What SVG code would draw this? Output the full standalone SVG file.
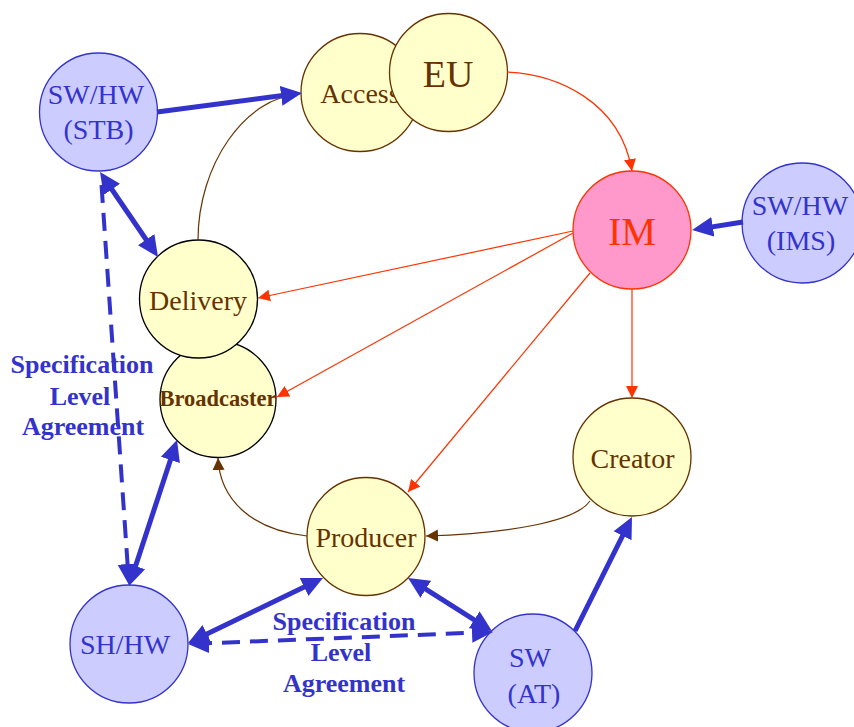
<svg xmlns="http://www.w3.org/2000/svg" width="854" height="727" viewBox="0 0 854 727">
  <style>
    .txt { font-family: "Liberation Serif", "Times New Roman", serif; text-anchor: middle; }
    .yel { fill: #FFFFCC; stroke: #663300; stroke-width: 1.3; }
    .yelk { fill: #FFFFCC; stroke: #000000; stroke-width: 1.3; }
    .blu { fill: #CCCCFF; stroke: #3333CC; stroke-width: 1.3; }
    .im { fill: #FF99CC; stroke: #FF3300; stroke-width: 1.3; }
    .tbrown { fill: #663300; font-size: 28px; }
    .tblue { fill: #3333CC; font-size: 28px; }
    .sla { fill: #3333CC; font-size: 26px; font-weight: bold; }
    .thick { stroke: #3333CC; stroke-width: 5; fill: none; }
    .dash { stroke: #3333CC; stroke-width: 4; fill: none; stroke-dasharray: 18 10; }
    .red { stroke: #FF3300; stroke-width: 1.2; fill: none; }
    .brown { stroke: #663300; stroke-width: 1.2; fill: none; }
  </style>
  <defs>
    <marker id="bigEnd" markerUnits="userSpaceOnUse" markerWidth="22" markerHeight="22" viewBox="0 -11 22 22" refX="15" refY="0" orient="auto">
      <path d="M0,-10 L21,0 L0,10 z" fill="#3333CC"/>
    </marker>
    <marker id="bigStart" markerUnits="userSpaceOnUse" markerWidth="22" markerHeight="22" viewBox="-22 -11 22 22" refX="-15" refY="0" orient="auto">
      <path d="M0,-10 L-21,0 L0,10 z" fill="#3333CC"/>
    </marker>
    <marker id="redEnd" markerUnits="userSpaceOnUse" markerWidth="13" markerHeight="13" viewBox="0 -6.5 13 13" refX="12" refY="0" orient="auto">
      <path d="M0,-6 L12,0 L0,6 z" fill="#FF3300"/>
    </marker>
    <marker id="brownEnd" markerUnits="userSpaceOnUse" markerWidth="13" markerHeight="13" viewBox="0 -6.5 13 13" refX="12" refY="0" orient="auto">
      <path d="M0,-6 L12,0 L0,6 z" fill="#663300"/>
    </marker>
  </defs>

  <rect x="0" y="0" width="854" height="727" fill="#FFFFFF"/>

  <!-- agreement labels -->
  <g id="label-sla-left" class="txt sla">
    <text x="82" y="373">Specification</text>
    <text x="80" y="405">Level</text>
    <text x="83" y="435">Agreement</text>
  </g>
  <g id="label-sla-bottom" class="txt sla">
    <text x="344" y="630">Specification</text>
    <text x="341" y="661">Level</text>
    <text x="344" y="692">Agreement</text>
  </g>

  <!-- nodes -->
  <g id="node-stb">
    <circle class="blu" cx="98.5" cy="112" r="59"/>
    <text class="txt tblue" x="96" y="104">SW/HW</text>
    <text class="txt tblue" x="98.5" y="139">(STB)</text>
  </g>
  <g id="node-access">
    <circle class="yel" cx="360" cy="92.5" r="59"/>
    <text class="txt tbrown" x="360" y="103">Access</text>
  </g>
  <g id="node-eu">
    <circle class="yel" cx="448.5" cy="72.5" r="59"/>
    <text class="txt tbrown" x="448" y="87" style="font-size:38px">EU</text>
  </g>
  <g id="node-im">
    <circle class="im" cx="632" cy="230" r="59"/>
    <text class="txt" x="632" y="245" style="font-size:39px" fill="#FF3300">IM</text>
  </g>
  <g id="node-ims">
    <circle class="blu" cx="802" cy="223" r="60"/>
    <text class="txt tblue" x="800" y="215">SW/HW</text>
    <text class="txt tblue" x="801" y="250">(IMS)</text>
  </g>
  <g id="node-broadcaster">
    <circle class="yelk" cx="218" cy="399.5" r="58"/>
    <text class="txt" x="218" y="406" style="font-size:22.5px;font-weight:bold" fill="#663300">Broadcaster</text>
  </g>
  <g id="node-delivery">
    <circle class="yelk" cx="198.5" cy="299" r="59"/>
    <text class="txt tbrown" x="198" y="310">Delivery</text>
  </g>
  <g id="node-creator">
    <circle class="yel" cx="632" cy="457" r="59"/>
    <text class="txt tbrown" x="632.5" y="468">Creator</text>
  </g>
  <g id="node-producer">
    <circle class="yel" cx="366" cy="536.5" r="59"/>
    <text class="txt tbrown" x="366" y="547">Producer</text>
  </g>
  <g id="node-shhw">
    <circle class="blu" cx="129" cy="644" r="59"/>
    <text class="txt tblue" x="125" y="654">SH/HW</text>
  </g>
  <g id="node-swat">
    <circle class="blu" cx="533" cy="673" r="59"/>
    <text class="txt tblue" x="530" y="667">SW</text>
    <text class="txt tblue" x="534" y="703">(AT)</text>
  </g>

  <!-- connectors -->
  <g id="connectors">
    <!-- information flows -->
    <path class="red" d="M507,72 C555,74 620,100 632,171" marker-end="url(#redEnd)"/>
    <path class="red" d="M573,231 L258,298" marker-end="url(#redEnd)"/>
    <path class="red" d="M573,233 L277,397" marker-end="url(#redEnd)"/>
    <path class="red" d="M590,273 L408,492" marker-end="url(#redEnd)"/>
    <path class="red" d="M632,289 L632,398" marker-end="url(#redEnd)"/>

    <!-- content chain -->
    <path class="brown" d="M198,240 C198,165 245,97 300,94"/>
    <path class="brown" d="M307,536 C252,530 220,500 218,458" marker-end="url(#brownEnd)"/>
    <path class="brown" d="M590,501 C575,522 510,533 426,536" marker-end="url(#brownEnd)"/>

    <!-- software / hardware links -->
    <path class="thick" d="M157,112 L296,93.8" marker-end="url(#bigEnd)"/>
    <path class="thick" d="M103.4,177 L154.6,252" marker-start="url(#bigStart)" marker-end="url(#bigEnd)"/>
    <path class="dash" d="M101.5,185 L128.6,579" marker-end="url(#bigEnd)"/>
    <path class="thick" d="M130.9,580.3 L175.1,445.7" marker-start="url(#bigStart)" marker-end="url(#bigEnd)"/>
    <path class="thick" d="M193.4,640.4 L317.6,580.6" marker-start="url(#bigStart)" marker-end="url(#bigEnd)"/>
    <path class="dash" d="M194,643.8 L487,632.2" marker-start="url(#bigStart)" marker-end="url(#bigEnd)"/>
    <path class="thick" d="M413.1,581.2 L486.9,627.8" marker-start="url(#bigStart)" marker-end="url(#bigEnd)"/>
    <path class="thick" d="M575,631 L629.3,522.4" marker-end="url(#bigEnd)"/>
    <path class="thick" d="M743,222 L698,229.1" marker-end="url(#bigEnd)"/>
  </g>
</svg>
